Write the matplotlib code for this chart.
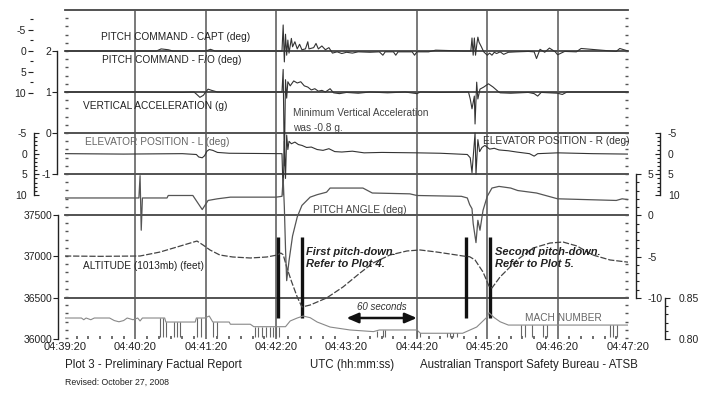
import numpy as np
import matplotlib
matplotlib.use('Agg')
import matplotlib.pyplot as plt
from matplotlib.ticker import FixedLocator

plt.rcParams['font.family'] = ['Liberation Sans', 'DejaVu Sans']
plt.rcParams['axes.unicode_minus'] = False

# time axis, seconds after 04:39:20 UTC
tick_secs = [0, 60, 120, 180, 240, 300, 360, 420, 480]
tick_labels = ['04:39:20', '04:40:20', '04:41:20', '04:42:20', '04:43:20',
               '04:44:20', '04:45:20', '04:46:20', '04:47:20']
grid_secs = [60, 120, 180, 300, 360, 420]
event_bars = [181.5, 202, 342, 362]
span_60s = (240, 300)

# (seconds, deg)
pitch_cmd_pts = [(0, 0), (78, 0), (82, -0.5), (88, -0.3), (92, 0), (120, 0), (124, -0.4), (128, 0),
                 (185, 0), (186, -6.2), (187, 2.6), (188, -4.0), (189, 1.0), (190, -2.6), (191, 0.5),
                 (193, -3.0), (194, -1.0), (196, -2.2), (198, -0.5), (200, -1.6), (202, -0.3),
                 (205, -0.5), (207, -2.2), (208, -0.5), (212, -0.8), (214, -1.8), (216, -0.5),
                 (219, -1.2), (222, -0.3), (225, -0.8), (228, 0.5), (232, 0.2), (236, 0.6),
                 (240, 0.3), (245, 0.5), (250, 0.2), (260, 0.3), (268, 0.2), (271, 1.0), (273, 0.2),
                 (280, 0.2), (282, 1.0), (284, 0.2), (296, 0.2), (298, 1.0), (300, 0.2), (310, 0.2),
                 (316, -0.2), (340, 0), (346, 0), (347, -3.1), (348, 1.0), (349, -3.1), (350, 1.0),
                 (351, -1.4), (352, -3.3), (353, -2.1), (355, -1.0), (357, 0.2), (360, 1.0),
                 (362, 0.5), (364, 1.0), (366, 0.3), (368, 0.6), (371, 0.2), (374, 0.8), (378, 0.3),
                 (385, 0.2), (395, 0.1), (400, 0.2), (402, 1.8), (405, -0.4), (409, 0.3), (413, -0.7),
                 (418, 0.2), (420, 0.9), (426, 0.1), (436, 0.2), (440, -0.6), (470, 0.1), (473, -0.6),
                 (480, 0)]

# (seconds, g)
vert_acc_pts = [(0, 1.0), (60, 1.0), (100, 0.99), (110, 1.0), (112, 0.95), (115, 0.87), (118, 0.92),
                (120, 1.0), (122, 1.07), (125, 1.04), (130, 1.0), (160, 1.0), (185, 1.0),
                (186, 1.55), (187, -0.8), (188, 1.3), (189, 0.85), (190, 1.25), (192, 1.15),
                (195, 1.27), (198, 1.22), (201, 1.25), (204, 1.15), (207, 1.12), (210, 1.05),
                (213, 1.08), (216, 1.02), (219, 1.04), (222, 1.0), (226, 1.08), (229, 0.98),
                (234, 0.96), (240, 0.99), (250, 0.97), (260, 1.0), (275, 0.98), (290, 1.0),
                (300, 0.96), (303, 1.0), (320, 0.99), (344, 1.0), (345.5, 0.83), (347, 0.59),
                (349, 0.9), (349.6, 0.22), (351, 1.24), (352, 0.83), (353.8, 1.07), (357, 1.12),
                (361, 1.2), (365, 1.12), (369, 1.02), (371, 0.98), (380, 0.97), (395, 0.99),
                (400, 0.96), (403, 0.9), (406, 0.99), (420, 0.97), (424, 0.94), (428, 1.0), (480, 1.0)]

# (seconds, deg) left elevator, right one overlays it
elevator_pts = [(0, 0), (50, 0.1), (100, 0), (112, 0.2), (114, 0.8), (117, 1.0), (119, 0.5),
                (121, -0.6), (123, -1.0), (126, -0.8), (130, -0.3), (140, -0.1), (185, 0),
                (186, 10), (187, -3), (188, 6), (189, -4.5), (190, -1), (191, -3), (193, -2.4),
                (196, -2.8), (199, -2.2), (202, -2.0), (206, -1.5), (210, -1.6), (215, -1.0),
                (220, -0.8), (225, -1.2), (230, -0.5), (236, -0.4), (245, -0.6), (255, -0.2),
                (270, -0.3), (300, -0.2), (320, -0.1), (343, 0.2), (345.5, 1.0), (347, 4.6),
                (349.6, -5), (350.4, 5), (352, -3.4), (353.5, -0.5), (355.5, -1.5), (358, -2.0),
                (362, -1.1), (366, -1.3), (370, -0.9), (378, -0.7), (385, -0.4), (396, 0),
                (400, 0.6), (403, 0), (420, -0.2), (450, 0), (480, 0.1)]

# (seconds, deg)
pitch_pts = [(0, 2.1), (30, 2.1), (63, 2.1), (64, 4.8), (65, -1.8), (66, 2.1), (87, 2.1), (88, 2.4),
             (109, 2.4), (117, 0.7), (122, 1.8), (130, 2.0), (141, 2.2), (180, 2.2), (185, 2.3),
             (186, 4.5), (187, 1.0), (188, -4.0), (189, -7.9), (191, -5.5), (194, -2.5),
             (198, -0.2), (202, 1.2), (209, 2.2), (215, 2.5), (223, 2.8), (226, 3.3), (254, 3.3),
             (258, 3.0), (262, 2.7), (294, 2.6), (300, 2.4), (338, 2.3), (343, 2.1), (345, 1.3),
             (347, 0.8), (348, -1.0), (350.4, -3.3), (352, -0.6), (353.8, -1.8), (356.4, 0.6),
             (360, 2.3), (364, 3.3), (370, 3.5), (380, 3.3), (386, 3.0), (402, 2.7), (420, 2.0),
             (470, 1.8), (475, 2.0), (480, 1.9)]

# (seconds, feet)
altitude_pts = [(0, 37004), (30, 37000), (64, 37004), (81, 37052), (95.5, 37113), (104, 37149),
                (112.5, 37185), (117.7, 37137), (123.6, 37077), (132, 37016), (143, 36992),
                (158, 36980), (172, 36992), (181, 37016), (184, 37040), (186, 37020),
                (189, 36871), (193, 36700), (198, 36508), (202, 36387), (209, 36411),
                (223, 36496), (237, 36629), (251.5, 36798), (262.6, 36919), (277, 37016),
                (291.6, 37065), (302.7, 37077), (317, 37052), (334, 37016), (339.3, 37004),
                (345, 36995), (349.6, 36956), (356.4, 36810), (361.5, 36640), (364, 36617),
                (370.9, 36750), (385.4, 36956), (399, 37100), (413.5, 37161), (424.6, 37173),
                (436.5, 37125), (450, 37016), (464.7, 36956), (479.2, 36931), (480, 36930)]

# (seconds, mach)
mach_pts = [(0, 0.8256), (14, 0.8256), (16, 0.8235), (18, 0.8256), (22, 0.8235), (25, 0.8256),
            (38, 0.8256), (42, 0.8225), (46, 0.821), (50, 0.8225), (53, 0.8256), (58, 0.8235),
            (62, 0.8256), (64, 0.822), (66, 0.8256), (85, 0.8256), (86, 0.8207), (111, 0.8207),
            (112, 0.8256), (119, 0.8256), (123, 0.828), (126, 0.8207), (140, 0.8207),
            (141, 0.818), (158, 0.818), (161, 0.815), (188, 0.815), (192, 0.822), (198, 0.8256),
            (203, 0.828), (209, 0.826), (215, 0.8207), (226, 0.8146), (243, 0.811), (263, 0.809),
            (268, 0.811), (300, 0.811), (303, 0.807), (339, 0.807), (351, 0.8146), (360, 0.827),
            (361.5, 0.832), (366, 0.826), (371, 0.821), (378, 0.817), (480, 0.817)]
mach_drop_t = [81, 83.5, 86, 92.7, 95.3, 97.8, 112.5, 116, 126, 129.5, 162, 164.5, 168, 171, 175,
               177, 180, 182.5, 266, 271, 273, 300, 302.6, 325.7, 328, 331, 334, 389, 392, 398,
               407.5, 411, 465, 467, 471]
mach_drop_top = [0.8256, 0.8256, 0.8207, 0.8207, 0.8207, 0.8207, 0.8256, 0.8256, 0.8207, 0.8207,
                 0.815, 0.815, 0.815, 0.815, 0.815, 0.815, 0.815, 0.815, 0.81, 0.811, 0.811, 0.811,
                 0.807, 0.807, 0.807, 0.807, 0.807, 0.817, 0.817, 0.817, 0.817, 0.817, 0.817, 0.817,
                 0.817]
mach_floor = 0.802

# ---- layout in pixels of the 705x393 picture ----
W, H = 705, 393
X0, X1, Y0, Y1 = 65, 628, 10, 339
frame_rows = [10, 51, 92, 133, 174, 215, 298]
INK = '#222222'
PT = 0.72  # points per pixel at 100 dpi


def fx(x):
    return x / W


def fy(y):
    return 1 - y / H


def lims(v0, p0, v1, p1):
    # y-limits so that value v0 sits on pixel row p0 and v1 on p1
    k = (v1 - v0) / (p1 - p0)
    return v0 + (Y1 - p0) * k, v0 + (Y0 - p0) * k


def spine_frac(x):
    return (x - X0) / (X1 - X0)


fig = plt.figure(figsize=(7.05, 3.93), dpi=100)
ax0 = fig.add_axes([fx(X0), fy(Y1), (X1 - X0) / W, (Y1 - Y0) / H])
ax0.set_xlim(0, 480)
ax0.set_ylim(Y1, Y0)
for s in ax0.spines.values():
    s.set_visible(False)


def scale_axis(ylim, side, xpix, bounds, major, minor, direction, pad_px,
               show_spine=True, maj_px=5, min_px=3):
    ax = ax0.twinx()
    ax.set_ylim(*ylim)
    for s in ax.spines.values():
        s.set_visible(False)
    sp = ax.spines[side]
    sp.set_visible(show_spine)
    sp.set_position(('axes', spine_frac(xpix)))
    sp.set_bounds(*bounds)
    sp.set_linewidth(1.0)
    sp.set_color(INK)
    if side == 'left':
        ax.yaxis.tick_left()
    else:
        ax.yaxis.tick_right()
    ax.yaxis.set_major_locator(FixedLocator(major))
    ax.yaxis.set_minor_locator(FixedLocator(minor))
    ax.tick_params(axis='y', which='both', direction=direction, colors=INK,
                   labelsize=7.5, pad=pad_px * PT, width=0.8)
    ax.tick_params(axis='y', which='major', length=maj_px * PT)
    ax.tick_params(axis='y', which='minor', length=min_px * PT)
    return ax


ax_pc = scale_axis(lims(0, 51, 10, 93), 'left', 33, (-10, 10), [-10, -5, 0, 5, 10],
                   [-7.5, -2.5, 2.5, 7.5], 'out', 2, show_spine=False)
ax_va = scale_axis(lims(2, 51, -1, 174), 'left', 57, (-1, 2), [2, 1, 0, -1], [], 'out', 1)
ax_el = scale_axis(lims(-5, 133, 10, 195), 'left', 34, (-5, 10), [-5, 0, 5, 10],
                   list(range(-5, 11)), 'in', 7)
ax_alt = scale_axis(lims(37500, 215, 36000, 339), 'left', 58, (36000, 37500),
                    [37500, 37000, 36500, 36000], [], 'out', 1)
ax_er = scale_axis(lims(-5, 133, 10, 195), 'right', 660, (-5, 10), [-5, 0, 5, 10],
                   list(range(-5, 11)), 'in', 8)
ax_pa = scale_axis(lims(5, 174, -10, 298), 'right', 636, (-10, 5), [5, 0, -5, -10],
                   list(range(-10, 6)), 'out', 7)
ax_m = scale_axis(lims(0.85, 298, 0.80, 339), 'right', 665, (0.80, 0.85), [0.85, 0.80],
                  [0.81, 0.82, 0.83, 0.84], 'out', 9)
ax_m.set_yticklabels(['0.85', '0.80'])

# frame lines, minute lines and dotted ticks of the main area
for r in frame_rows:
    ax0.axhline(r, color='#444444', lw=1.3, clip_on=False, zorder=1)
for t in grid_secs:
    ax0.axvline(t, color='#555555', lw=1.1, zorder=1)
ax0.set_xticks(tick_secs)
ax0.set_xticklabels(tick_labels)
ax0.set_xticks(np.arange(10, 480, 10), minor=True)
ax0.tick_params(axis='x', which='major', length=0, labelsize=8, colors=INK, pad=2)
ax0.tick_params(axis='x', which='minor', direction='in', length=3 * PT, width=1.2,
                color='#555555')
ax0.set_yticks([])
ax0.set_yticks(np.arange(Y0 + 8.2, Y1, 8.2), minor=True)
ax0.tick_params(axis='y', which='minor', left=True, right=True, direction='in',
                length=3 * PT, width=1.0, color='#555555')

# event markers and 60 s arrow
ax0.vlines(event_bars, 237, 318, color='#111111', lw=2.4, zorder=3)
ax0.annotate('', xy=(span_60s[0], 318), xytext=(span_60s[1], 318),
             arrowprops=dict(arrowstyle='<|-|>,head_length=0.7,head_width=0.3',
                             color='#111111', lw=1.8, shrinkA=0, shrinkB=0))
ax0.text(sum(span_60s) / 2, 307, '60 seconds', style='italic', ha='center', va='center',
         fontsize=7, color='#333333')

# traces
pc_t, pc_v = np.array(pitch_cmd_pts).T
ax_pc.plot(pc_t, pc_v, color='#333333', lw=0.8)
va_t, va_v = np.array(vert_acc_pts).T
ax_va.plot(va_t, va_v, color='#333333', lw=0.8)
el_t, el_v = np.array(elevator_pts).T
ax_el.plot(el_t, el_v, color='#333333', lw=0.8)
pa_t, pa_v = np.array(pitch_pts).T
ax_pa.plot(pa_t, pa_v, color='#555555', lw=0.9)
al_t, al_v = np.array(altitude_pts).T
ax_alt.plot(al_t, al_v, color='#444444', lw=0.9, ls=(0, (5, 1.5)))
m_t, m_v = np.array(mach_pts).T
ax_m.plot(m_t, m_v, color='#888888', lw=0.8)
ax_m.vlines(mach_drop_t, mach_floor, mach_drop_top, color='#666666', lw=0.8)

# trace names
names = [('PITCH COMMAND - CAPT (deg)', 101, 37, '#222222'),
         ('PITCH COMMAND - F/O (deg)', 102, 60, '#222222'),
         ('VERTICAL ACCELERATION (g)', 83, 106, '#222222'),
         ('ELEVATOR POSITION - L (deg)', 85, 142, '#666666'),
         ('ELEVATOR POSITION - R (deg)', 483, 141, '#333333'),
         ('PITCH ANGLE (deg)', 313, 210, '#444444'),
         ('ALTITUDE (1013mb) (feet)', 83, 266, '#222222'),
         ('MACH NUMBER', 525, 318, '#666666')]
for txt, x, y, c in names:
    fig.text(fx(x), fy(y), txt, fontsize=7.3, color=c, ha='left', va='center')

fig.text(fx(293), fy(113), 'Minimum Vertical Acceleration', fontsize=7.3, color='#444444',
         va='center')
fig.text(fx(293), fy(128), 'was -0.8 g.', fontsize=7.3, color='#444444', va='center')

for txt, x, y in [('First pitch-down.', 306, 252), ('Refer to Plot 4.', 306, 264),
                  ('Second pitch-down.', 495, 252), ('Refer to Plot 5.', 495, 264)]:
    fig.text(fx(x), fy(y), txt, fontsize=8, fontweight='bold', style='italic',
             color='#222222', va='center')

fig.text(fx(65), fy(365), 'Plot 3 - Preliminary Factual Report', fontsize=8.3, color=INK,
         va='center')
fig.text(fx(310), fy(365), 'UTC (hh:mm:ss)', fontsize=8.3, color=INK, va='center')
fig.text(fx(420), fy(365), 'Australian Transport Safety Bureau - ATSB', fontsize=8.3,
         color=INK, va='center')
fig.text(fx(65), fy(382), 'Revised: October 27, 2008', fontsize=6.3, color=INK, va='center')

fig.savefig('out.png', dpi=100, facecolor='white')
